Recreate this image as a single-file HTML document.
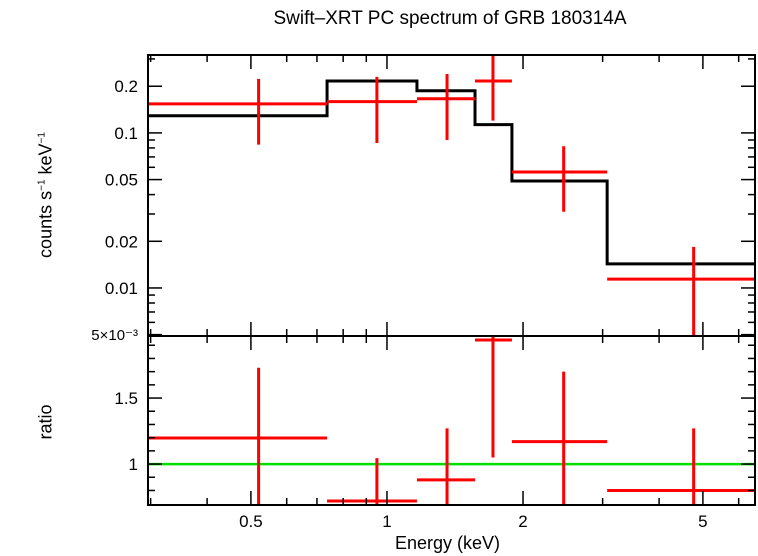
<!DOCTYPE html>
<html><head><meta charset="utf-8"><style>
html,body{margin:0;padding:0;background:#fff;}
svg{display:block;font-family:"Liberation Sans",sans-serif;}
</style></head><body>
<svg id="chart" width="758" height="556" xmlns="http://www.w3.org/2000/svg">
<text x="450" y="24" font-size="19" text-anchor="middle">Swift–XRT PC spectrum of GRB 180314A</text>
<g id="marks"></g>
<g id="axes"></g>
</svg>
<script>
const binEdges=[0.296,0.737,1.165,1.566,1.89,3.07,6.52];
const modelValues=[0.129,0.216,0.187,0.113,0.049,0.0143];
const dataX=[0.52,0.95,1.358,1.716,2.46,4.77];
const dataY=[0.154,0.159,0.166,0.216,0.056,0.0114];
const dataYHi=[0.223,0.23,0.24,0.32,0.082,0.0184];
const dataYLo=[0.084,0.086,0.09,0.12,0.031,0.0049];
const ratioY=[1.197,0.72,0.88,1.94,1.17,0.80];
const ratioHi=[1.73,1.045,1.27,2.0,1.70,1.27];
const ratioLo=[0.69,0.69,0.69,1.05,0.69,0.69];
const xTicks=[0.5,1,2,5];
const xTickLabels=["0.5","1","2","5"];
const yTicks=[0.01,0.02,0.05,0.1,0.2];
const yTickLabels=["0.01","0.02","0.05","0.1","0.2"];
const rTicks=[1,1.5];
const rTickLabels=["1","1.5"];

const L=148,R=755,T=55,M=336,B=505;
const xmin=Math.log10(0.296),xmax=Math.log10(6.52);
const X=v=>L+(Math.log10(v)-xmin)/(xmax-xmin)*(R-L);
const ymax=Math.log10(0.318),ymin=Math.log10(0.0049);
const Y=v=>T+(ymax-Math.log10(v))/(ymax-ymin)*(M-T);
const r0=1.97,r1=0.69;
const RY=v=>M+(r0-v)/(r0-r1)*(B-M);
const ns="http://www.w3.org/2000/svg";
const marks=document.getElementById('marks'),axes=document.getElementById('axes');
function mk(tag,at,par){const e=document.createElementNS(ns,tag);for(const k in at)e.setAttribute(k,at[k]);par.appendChild(e);return e;}
const cl=v=>Math.max(T,Math.min(M,v));
const clr=v=>Math.max(M,Math.min(B,v));

let d="";
modelValues.forEach((m,i)=>{const y=Y(m);d+=(i?"L":"M")+X(binEdges[i])+","+y+"L"+X(binEdges[i+1])+","+y;});
const model=mk('path',{d:d,fill:"none",stroke:"#000","stroke-width":3},marks);



const one=mk('line',{x1:L,x2:R,y1:RY(1),y2:RY(1),stroke:"#00e000","stroke-width":2.5},marks);



dataX.forEach((x,i)=>{
  const g=mk('g',{stroke:"#f00","stroke-width":3},marks);
  
  
  mk('line',{x1:X(binEdges[i]),x2:X(binEdges[i+1]),y1:Y(dataY[i]),y2:Y(dataY[i])},g);
  mk('line',{x1:X(x),x2:X(x),y1:cl(Y(dataYHi[i])),y2:cl(Y(dataYLo[i]))},g);
  const h=mk('g',{stroke:"#f00","stroke-width":3},marks);
  
  
  mk('line',{x1:X(binEdges[i]),x2:X(binEdges[i+1]),y1:clr(RY(ratioY[i])),y2:clr(RY(ratioY[i]))},h);
  mk('line',{x1:X(x),x2:X(x),y1:clr(RY(ratioHi[i])),y2:clr(RY(ratioLo[i]))},h);
});

const f1=mk('rect',{x:L,y:T,width:R-L,height:M-T,fill:"none",stroke:"#000","stroke-width":2},axes);


const f2=mk('rect',{x:L,y:M,width:R-L,height:B-M,fill:"none",stroke:"#000","stroke-width":2},axes);



const minors=[0.3,0.4,0.5,0.6,0.7,0.8,0.9,1,2,3,4,5,6];
minors.forEach(v=>{
  const maj=xTicks.includes(v);const len=maj?14:7;const x=X(v);
  [[T,T+len],[M,M-len],[M,M+len],[B,B-len]].forEach(p=>mk('line',{x1:x,x2:x,y1:p[0],y2:p[1],stroke:"#000","stroke-width":1.5},axes));
});
xTicks.forEach((v,i)=>{const t=mk('text',{x:X(v),y:B+22,"font-size":17,"text-anchor":"middle"},axes);t.textContent=xTickLabels[i];
});

const yMinor=[0.005,0.006,0.007,0.008,0.009,0.01,0.02,0.03,0.04,0.05,0.06,0.07,0.08,0.09,0.1,0.2,0.3];
yMinor.forEach(v=>{const maj=yTicks.includes(v)||v===0.005;const len=maj?14:7;const y=Y(v);
  mk('line',{x1:L,x2:L+len,y1:y,y2:y,stroke:"#000","stroke-width":1.5},axes);
  mk('line',{x1:R,x2:R-len,y1:y,y2:y,stroke:"#000","stroke-width":1.5},axes);});
yTicks.forEach((v,i)=>{const t=mk('text',{x:L-10,y:Y(v)+6,"font-size":17,"text-anchor":"end"},axes);t.textContent=yTickLabels[i];
});
const t5=mk('text',{x:L-10,y:M+4,"font-size":15,"text-anchor":"end"},axes);t5.textContent="5×10⁻³";


[0.8,0.9,1,1.1,1.2,1.3,1.4,1.5,1.6,1.7,1.8,1.9].forEach(v=>{const maj=rTicks.includes(v);const len=maj?14:7;const y=RY(v);
  mk('line',{x1:L,x2:L+len,y1:y,y2:y,stroke:"#000","stroke-width":1.5},axes);
  mk('line',{x1:R,x2:R-len,y1:y,y2:y,stroke:"#000","stroke-width":1.5},axes);});
rTicks.forEach((v,i)=>{const t=mk('text',{x:L-10,y:RY(v)+6,"font-size":17,"text-anchor":"end"},axes);t.textContent=rTickLabels[i];
});
</script>
<div style="position:absolute;left:0;top:0;width:758px;height:556px;pointer-events:none;font-family:'Liberation Sans',sans-serif;">
<div style="position:absolute;left:395px;top:533px;font-size:18px;">Energy (keV)</div>
<div style="position:absolute;left:46px;top:195px;font-size:18px;transform:translate(-50%,-50%) rotate(-90deg);white-space:nowrap;">counts s<sup style="font-size:10px">−1</sup> keV<sup style="font-size:10px">−1</sup></div>
<div style="position:absolute;left:46px;top:422px;font-size:18px;transform:translate(-50%,-50%) rotate(-90deg);white-space:nowrap;">ratio</div>
</div>
</body></html>
